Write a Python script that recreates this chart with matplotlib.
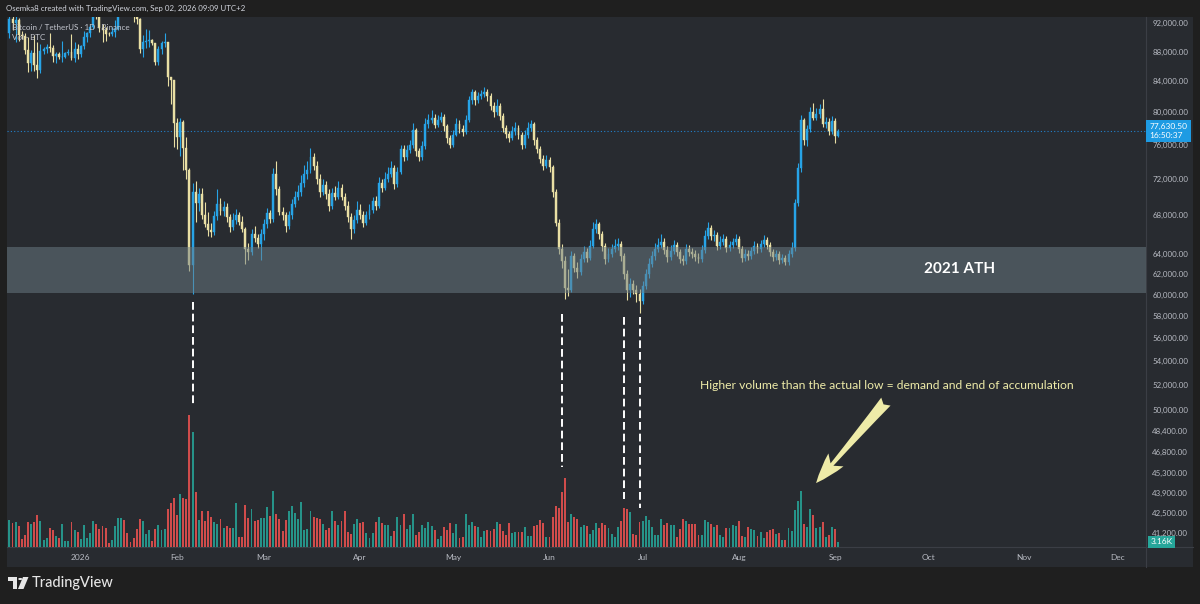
import numpy as np
import pandas as pd
import matplotlib
matplotlib.use('Agg')
import matplotlib.pyplot as plt
import matplotlib.dates as mdates
import matplotlib.transforms as mtransforms
from matplotlib.patches import Rectangle, Polygon, Circle
from matplotlib.lines import Line2D

plt.rcParams['font.family'] = ['Lato', 'DejaVu Sans']

W, H = 1200, 604

# BTC/USDT daily candles from 2025-12-09 to 2026-09-02, prices in thousands of USDT
first_day = '2025-12-09'
first_open = 90.6
closes = [
    92.7, 92.0, 92.5, 90.3, 90.2, 88.2, 86.4, 87.8, 86.1, 85.5,
    88.1, 88.3, 88.6, 88.5, 87.4, 87.6, 87.2, 87.3, 87.8, 87.9,
    87.1, 88.4, 87.6, 88.7, 90.0, 90.6, 91.5, 93.9, 93.7, 91.3,
    91.0, 90.5, 90.4, 90.8, 91.2, 95.3, 97.0, 95.6, 95.5, 95.1,
    93.6, 92.6, 88.3, 89.4, 89.5, 89.6, 89.2, 86.6, 88.3, 89.2,
    89.3, 84.6, 84.1, 78.6, 76.9, 78.7, 75.6, 73.0, 62.9, 70.5,
    69.3, 70.3, 68.0, 67.1, 66.4, 66.2, 67.9, 69.2, 68.4, 68.9,
    67.8, 66.7, 67.5, 68.0, 67.3, 66.5, 64.5, 64.2, 66.0, 65.6,
    65.0, 66.0, 67.0, 68.2, 67.6, 72.6, 70.8, 68.3, 68.0, 66.8,
    68.0, 69.2, 70.0, 70.5, 71.5, 72.5, 73.0, 74.5, 73.5, 72.0,
    70.5, 71.3, 70.3, 69.0, 70.4, 70.0, 71.0, 70.0, 69.0, 67.8,
    66.5, 67.5, 68.5, 68.0, 67.2, 68.0, 68.5, 69.5, 69.0, 71.5,
    71.0, 72.0, 72.6, 73.2, 71.4, 72.8, 75.5, 74.5, 75.3, 75.9,
    77.8, 75.2, 74.5, 75.8, 78.5, 79.0, 79.3, 78.4, 79.0, 79.4,
    78.2, 76.8, 76.0, 77.2, 78.5, 77.9, 77.5, 79.0, 81.5, 82.5,
    81.5, 82.0, 82.3, 82.6, 82.0, 80.8, 80.0, 80.8, 79.5, 78.0,
    77.3, 76.8, 77.6, 78.0, 77.2, 76.0, 77.2, 78.0, 78.5, 76.5,
    75.5, 74.3, 73.5, 74.2, 73.3, 70.5, 67.2, 64.5, 63.3, 60.6,
    60.4, 63.8, 62.6, 62.2, 63.5, 64.2, 63.6, 64.8, 66.5, 67.0,
    66.0, 64.8, 63.5, 64.0, 64.5, 64.8, 65.0, 63.8, 62.0, 60.4,
    61.0, 60.4, 60.0, 59.4, 60.8, 62.0, 63.0, 63.8, 64.5, 64.9,
    65.2, 64.4, 63.7, 64.3, 64.9, 64.2, 63.5, 63.3, 64.5, 64.2,
    64.0, 63.7, 63.5, 64.4, 65.8, 66.6, 65.8, 65.9, 64.8, 65.2,
    65.5, 64.6, 64.9, 65.2, 65.5, 64.5, 63.6, 64.0, 63.8, 64.3,
    64.8, 64.5, 65.0, 65.4, 64.9, 64.2, 63.7, 64.0, 63.4, 63.6,
    63.2, 64.0, 64.6, 69.3, 73.2, 79.0, 76.6, 77.9, 80.0, 79.3,
    79.8, 80.4, 78.5, 78.8, 77.6, 78.9, 77.0, 77.6305,
]
highs = [
    94.5, 94.0, 93.5, 92.8, 90.9, 90.6, 90.0, 88.2, 90.3, 89.4,
    89.0, 88.6, 89.1, 90.6, 88.9, 88.0, 88.0, 89.5, 88.0, 88.4,
    90.4, 89.3, 89.0, 88.9, 90.9, 90.8, 91.8, 94.8, 94.7, 93.6,
    91.9, 91.5, 90.8, 91.5, 92.5, 96.3, 97.9, 97.2, 95.9, 95.6,
    95.5, 93.5, 92.8, 90.3, 91.2, 91.1, 89.8, 89.2, 88.8, 89.5,
    90.6, 89.4, 84.6, 84.2, 79.3, 79.3, 79.0, 76.9, 73.2, 71.5,
    71.7, 71.0, 71.0, 69.4, 68.3, 67.2, 68.4, 70.9, 69.9, 69.5,
    69.3, 68.1, 68.2, 68.7, 68.3, 67.9, 66.7, 65.1, 66.5, 66.8,
    66.0, 66.5, 67.6, 68.8, 68.6, 73.2, 74.0, 71.2, 68.9, 68.3,
    68.4, 69.8, 70.6, 71.3, 72.4, 73.6, 74.0, 75.6, 75.0, 74.1,
    72.6, 72.0, 71.8, 70.8, 71.0, 71.2, 71.8, 71.4, 70.4, 69.5,
    68.2, 68.0, 69.5, 69.2, 68.4, 68.4, 69.2, 70.0, 70.1, 72.2,
    72.0, 72.8, 73.3, 74.0, 73.6, 73.4, 76.0, 76.0, 75.9, 76.6,
    78.6, 78.0, 75.6, 76.4, 79.3, 79.8, 80.3, 79.8, 79.6, 80.0,
    79.7, 78.5, 77.2, 77.7, 79.2, 79.0, 78.4, 79.6, 82.0, 83.0,
    82.8, 82.5, 82.8, 83.2, 82.9, 82.4, 81.3, 81.6, 81.2, 79.9,
    78.4, 77.6, 78.2, 78.7, 78.4, 77.5, 77.8, 78.8, 79.0, 78.8,
    76.9, 75.8, 74.8, 74.7, 74.5, 73.6, 70.9, 67.6, 65.0, 63.8,
    62.5, 64.3, 64.1, 63.2, 64.0, 64.8, 64.6, 65.4, 67.3, 67.6,
    67.3, 66.3, 65.1, 64.6, 65.0, 65.5, 65.6, 65.3, 64.1, 62.4,
    61.6, 61.4, 60.9, 60.5, 61.3, 62.5, 63.6, 64.3, 65.1, 65.6,
    66.0, 65.6, 64.8, 64.9, 65.4, 65.2, 64.5, 63.9, 65.0, 64.9,
    64.6, 64.4, 64.1, 64.9, 66.4, 67.3, 66.9, 66.4, 66.2, 65.8,
    66.0, 65.8, 65.3, 65.6, 66.0, 65.8, 64.8, 64.5, 64.4, 64.7,
    65.3, 65.1, 65.4, 65.9, 65.7, 65.2, 64.5, 64.4, 64.3, 64.0,
    63.9, 64.4, 65.2, 69.8, 73.8, 79.6, 79.3, 78.4, 80.6, 81.2,
    80.5, 81.0, 81.6, 79.4, 79.2, 79.5, 79.2, 77.9,
]
lows = [
    89.9, 91.0, 89.3, 89.5, 89.8, 87.6, 85.2, 85.3, 85.3, 84.4,
    85.1, 87.6, 87.8, 87.9, 86.6, 86.4, 86.9, 86.6, 87.1, 87.5,
    86.8, 86.6, 87.0, 87.2, 88.3, 89.3, 90.0, 91.2, 92.6, 90.8,
    89.3, 89.5, 90.2, 90.2, 90.0, 91.0, 94.2, 94.8, 94.3, 94.9,
    92.2, 91.9, 87.8, 87.3, 88.5, 88.6, 88.9, 86.1, 86.1, 87.6,
    88.6, 83.4, 81.0, 75.7, 75.5, 74.6, 73.0, 72.0, 62.3, 60.0,
    67.3, 68.4, 67.6, 66.7, 65.8, 65.7, 65.9, 67.5, 68.0, 67.9,
    67.3, 66.2, 66.4, 67.0, 66.9, 66.2, 63.0, 63.4, 63.9, 65.2,
    64.6, 63.4, 65.4, 66.6, 67.2, 67.3, 70.2, 68.0, 67.5, 66.2,
    66.5, 67.6, 68.9, 69.6, 70.1, 71.1, 72.0, 72.7, 73.0, 71.4,
    70.0, 70.2, 69.8, 68.4, 68.7, 69.6, 69.8, 69.6, 68.5, 67.3,
    65.5, 66.1, 67.2, 67.6, 66.7, 66.9, 67.6, 68.2, 68.6, 68.8,
    70.5, 70.7, 71.6, 72.2, 70.8, 71.1, 72.5, 74.0, 74.2, 75.0,
    75.6, 74.6, 74.0, 74.2, 75.5, 78.0, 78.6, 78.0, 78.1, 78.7,
    77.6, 76.2, 75.6, 75.7, 77.0, 77.4, 77.0, 77.3, 78.8, 81.0,
    80.9, 81.1, 81.6, 81.9, 81.4, 80.2, 79.4, 79.6, 79.0, 77.5,
    76.8, 76.3, 76.5, 77.2, 76.7, 75.5, 75.6, 76.8, 77.6, 76.0,
    75.0, 73.8, 73.0, 73.2, 72.8, 70.0, 66.8, 64.0, 62.6, 59.6,
    59.9, 60.2, 62.2, 61.6, 61.9, 63.2, 63.2, 63.4, 64.6, 66.1,
    65.5, 64.3, 63.0, 63.2, 63.7, 64.2, 64.4, 63.3, 61.5, 59.5,
    59.8, 60.0, 59.3, 58.3, 59.1, 60.5, 61.6, 62.7, 63.4, 64.2,
    64.6, 64.0, 63.2, 63.4, 64.0, 63.8, 63.1, 62.9, 63.0, 63.8,
    63.6, 63.3, 63.1, 63.2, 64.1, 65.5, 65.4, 65.3, 64.4, 64.5,
    64.9, 64.2, 64.3, 64.6, 64.9, 64.1, 63.2, 63.3, 63.4, 63.5,
    64.0, 64.1, 64.2, 64.7, 64.5, 63.8, 63.3, 63.4, 63.0, 63.1,
    62.9, 62.9, 63.7, 64.3, 69.0, 72.8, 76.0, 75.8, 77.5, 79.0,
    79.0, 79.3, 78.1, 78.0, 77.2, 77.3, 76.2, 76.9,
]
# daily volume, thousands of BTC
volume_k = [
    16.8, 15.1, 16.0, 13.2, 4.8, 7.6, 15.5, 14.7, 16.0, 20.2,
    16.4, 4.4, 5.9, 11.8, 10.9, 7.1, 5.9, 14.5, 3.6, 3.6,
    15.8, 10.5, 9.2, 5.3, 13.7, 5.7, 8.6, 16.2, 14.5, 11.3,
    13.0, 12.2, 2.5, 4.4, 13.0, 18.3, 18.1, 17.0, 8.8, 3.4,
    5.7, 11.3, 17.6, 16.2, 8.4, 10.9, 3.6, 11.3, 14.1, 10.5,
    11.3, 24.2, 27.7, 30.9, 20.2, 33.2, 30.7, 30.2, 83.2, 72.5,
    34.9, 17.0, 22.9, 16.4, 22.5, 18.9, 15.8, 14.3, 17.4, 12.2,
    13.0, 12.2, 12.0, 27.7, 6.3, 6.3, 26.3, 18.3, 23.9, 16.4,
    16.8, 18.1, 18.3, 25.2, 19.5, 35.3, 20.6, 17.9, 10.1, 17.0,
    22.7, 25.6, 21.4, 17.6, 28.1, 10.5, 11.3, 22.5, 19.1, 18.5,
    17.4, 14.3, 10.5, 11.8, 22.5, 16.4, 14.1, 16.4, 22.5, 9.2,
    8.0, 14.5, 17.6, 15.1, 15.8, 9.0, 5.9, 9.0, 15.8, 18.7,
    15.3, 14.1, 13.9, 7.1, 10.3, 18.9, 14.0,
    21.0, 11.6, 13.7, 20.8, 7.6, 9.2, 13.7, 12.2, 15.8, 13.4,
    10.5, 5.0, 6.7, 12.8, 10.9, 14.9, 8.8, 14.3, 5.5, 6.5,
    20.8, 13.7, 15.5, 13.4, 12.8, 6.3, 10.1, 10.5, 10.3, 11.6,
    16.0, 14.3, 10.1, 7.6, 14.9, 9.0, 9.2, 9.2, 9.2, 12.6,
    7.1, 6.9, 13.4, 13.7, 17.0, 14.9, 6.3, 6.3, 19.1, 26.0,
    24.4, 34.4, 43.5, 15.8, 21.0, 18.7, 17.6, 12.6, 14.1, 13.4,
    8.4, 10.9, 14.9, 12.0, 15.3, 13.9, 12.0, 8.0, 6.3, 12.4,
    16.4, 24.6, 24.2, 21.8, 8.0, 7.6, 16.0, 16.4, 19.7, 16.8,
    12.6, 7.6, 7.6, 17.4, 13.7, 14.9, 13.7, 14.1, 6.3, 11.1,
    17.4, 16.6, 14.7, 14.7, 14.7, 7.4, 7.4, 16.8, 16.0, 14.5,
    12.8, 13.7, 7.6, 6.3, 12.0, 11.8, 13.7, 13.4, 16.6, 6.7,
    6.3, 12.4, 11.1, 10.5, 6.7, 9.5, 5.9, 9.2, 10.7, 11.1,
    8.4, 8.8, 4.2, 4.6, 11.8, 10.1, 23.1, 28.8, 35.3, 14.7,
    12.6, 24.2, 20.0, 12.2, 12.6, 15.8, 6.3, 7.6, 12.6, 11.6,
    3.16,
]

price_ticks = [92000, 88000, 84000, 80000, 76000, 72000, 68000, 64000, 62000,
               60000, 58000, 56000, 54000, 52000, 50000, 48400, 46800, 45300,
               43900, 42500, 41200]
month_days = ['2026-01-01', '2026-02-01', '2026-03-01', '2026-04-01', '2026-05-01',
              '2026-06-01', '2026-07-01', '2026-08-01', '2026-09-01', '2026-10-01',
              '2026-11-01', '2026-12-01']
month_labels = ['2026', 'Feb', 'Mar', 'Apr', 'May', 'Jun', 'Jul', 'Aug', 'Sep',
                'Oct', 'Nov', 'Dec']

zone_low, zone_high = 60170, 64700
last_price = 77630.50
countdown = '16:50:37'

# dashed markers from the lows down to the volume bars
mark_days = ['2026-02-06', '2026-06-05', '2026-06-25', '2026-06-30']
mark_top = [59300, 58200, 57900, 57900]
mark_bottom = [50400, 45700, 43500, 42850]

note = 'Higher volume than the actual low = demand and end of accumulation'
note_day, note_price = '2026-07-19 12:00', 52000
arrow_tail = ('2026-09-17 09:00', 50680)
arrow_head = ('2026-08-25 21:00', 44570)
ath_day, ath_price = '2026-10-11', 62500

BG = '#282b30'
OUTER = '#1f1f1f'
SEP = '#3b3e45'
UP, DOWN = '#27a3e6', '#e9dfa4'
VUP, VDOWN = '#26a69a', '#ef5350'
LABEL = '#b8bbc3'
PALE = '#eeeba8'


def fx(x):
    return x / W


def fy(y):
    return 1 - y / H


fig = plt.figure(figsize=(W / 100, H / 100), dpi=100, facecolor=OUTER)

fig.add_artist(Rectangle((fx(7), fy(567)), fx(1193) - fx(7), fy(17) - fy(567),
                         transform=fig.transFigure, facecolor=BG, edgecolor='none', zorder=0))
fig.add_artist(Line2D([fx(1146), fx(1146)], [fy(17), fy(567)], transform=fig.transFigure,
                      color=SEP, lw=0.8, zorder=0.5))
fig.add_artist(Line2D([fx(7), fx(1193)], [fy(547), fy(547)], transform=fig.transFigure,
                      color=SEP, lw=0.8, zorder=0.5))

rect = [fx(7), fy(547), fx(1146) - fx(7), fy(17) - fy(547)]
vax = fig.add_axes(rect, zorder=1)
ax = fig.add_axes(rect, zorder=2)
for a in (vax, ax):
    a.set_facecolor('none')
    for s in a.spines.values():
        s.set_visible(False)

dates = pd.date_range(first_day, periods=len(closes), freq='D')
xd = mdates.date2num(dates)
c = np.array(closes) * 1000
o = np.concatenate([[first_open], closes[:-1]]) * 1000
hi = np.array(highs) * 1000
lo = np.array(lows) * 1000
up = c >= o

jan1 = mdates.date2num(pd.Timestamp('2026-01-01'))
px_per_day = 3.104
xlim = (jan1 + (7 - 80.8) / px_per_day, jan1 + (1146 - 80.8) / px_per_day)

# volume
vax.bar(xd, volume_k, width=0.62, color=np.where(up, VUP, VDOWN), alpha=0.85, lw=0)
vax.set_xlim(xlim)
vax.set_ylim(0, 334)
vax.set_xticks([])
vax.set_yticks([])

# candles
ccol = np.where(up, UP, DOWN)
ax.vlines(xd, lo, hi, colors=ccol, lw=0.8, zorder=2)
ax.bar(xd, np.abs(c - o), bottom=np.minimum(o, c), width=0.62, color=ccol,
       edgecolor=ccol, lw=0.3, zorder=2.1)

ax.set_yscale('log')
ax.set_ylim(40300, 92920)
ax.set_xlim(xlim)
ax.minorticks_off()
ax.set_yticks(price_ticks)
ax.set_yticklabels([f'{p:,.2f}' for p in price_ticks])
ax.yaxis.tick_right()
ax.tick_params(axis='y', length=0, pad=4.5, labelsize=5.7, labelcolor=LABEL)
ax.set_xticks(mdates.date2num(pd.to_datetime(month_days)))
ax.set_xticklabels(month_labels)
ax.tick_params(axis='x', length=0, pad=5, labelsize=6, labelcolor=LABEL)

# 2021 ATH zone
ax.axhspan(zone_low, zone_high, color='#6d7e86', alpha=0.5, lw=0, zorder=3)
ax.text(mdates.date2num(pd.Timestamp(ath_day)), ath_price, '2021 ATH', color='white',
        fontsize=11, fontweight='bold', ha='center', va='center', zorder=6)

# current price line and label
ax.axhline(last_price, color='#2196f3', lw=0.8, ls=(0, (1, 2)), alpha=0.8, zorder=1.5)
blend = mtransforms.blended_transform_factory(ax.transAxes, ax.transData)
ax.text(1.003, last_price, f'{last_price:,.2f}\n{countdown}', transform=blend,
        ha='left', va='center', fontsize=6, color='white', linespacing=1.2,
        bbox=dict(boxstyle='square,pad=0.45', fc='#1e9be3', ec='none'),
        clip_on=False, zorder=10)
vblend = mtransforms.blended_transform_factory(vax.transAxes, vax.transData)
vax.text(1.004, volume_k[-1], f'{volume_k[-1]:.2f}K', transform=vblend, ha='left',
         va='center', fontsize=6, color='white',
         bbox=dict(boxstyle='square,pad=0.25', fc='#26a69a', ec='none'),
         clip_on=False, zorder=10)

# dashed markers
for d, t, b in zip(mark_days, mark_top, mark_bottom):
    xm = mdates.date2num(pd.Timestamp(d))
    ax.plot([xm, xm], [t, b], color='white', lw=1.4, ls=(0, (4, 2)), zorder=4)

# note and arrow
ax.text(mdates.date2num(pd.Timestamp(note_day)), note_price, note, color=PALE,
        fontsize=8.7, ha='left', va='center', zorder=6)
ax.annotate('', xy=(mdates.date2num(pd.Timestamp(arrow_head[0])), arrow_head[1]),
            xytext=(mdates.date2num(pd.Timestamp(arrow_tail[0])), arrow_tail[1]),
            arrowprops=dict(arrowstyle='fancy,head_length=1.0,head_width=0.65,tail_width=0.4',
                            fc=PALE, ec='none', mutation_scale=22, shrinkA=0, shrinkB=0),
            zorder=6)

# header, legend and logo
fig.text(fx(6), fy(8.5), 'Osemka8 created with TradingView.com, Sep 02, 2026 09:09 UTC+2',
         fontsize=5.7, color='#d1d4dc', va='center', ha='left')
fig.text(fx(12), fy(27), 'Bitcoin / TetherUS · 1D · Binance', fontsize=5.8,
         color='#c3c6ce', va='center', ha='left', zorder=5)
fig.text(fx(12), fy(38), 'Vol · BTC', fontsize=5.8, color='#c3c6ce', va='center',
         ha='left', zorder=5)

logo = '#e6e6e6'
fig.add_artist(Rectangle((fx(8), fy(581)), fx(9), fy(577) - fy(581), transform=fig.transFigure,
                         fc=logo, ec='none'))
fig.add_artist(Rectangle((fx(12.5), fy(589)), fx(4.5), fy(577) - fy(589),
                         transform=fig.transFigure, fc=logo, ec='none'))
fig.add_artist(Circle((fx(20.3), fy(579)), fx(2.1), transform=fig.transFigure, fc=logo,
                      ec='none'))
fig.add_artist(Polygon([(fx(23), fy(577)), (fx(28.5), fy(577)), (fx(23.5), fy(589)),
                        (fx(18), fy(589))], closed=True, transform=fig.transFigure,
                       fc=logo, ec='none'))
fig.text(fx(32), fy(583.5), 'TradingView', fontsize=10.5, color=logo, va='center',
         ha='left', fontweight='medium')

fig.savefig('out.png', dpi=100, facecolor=OUTER)
